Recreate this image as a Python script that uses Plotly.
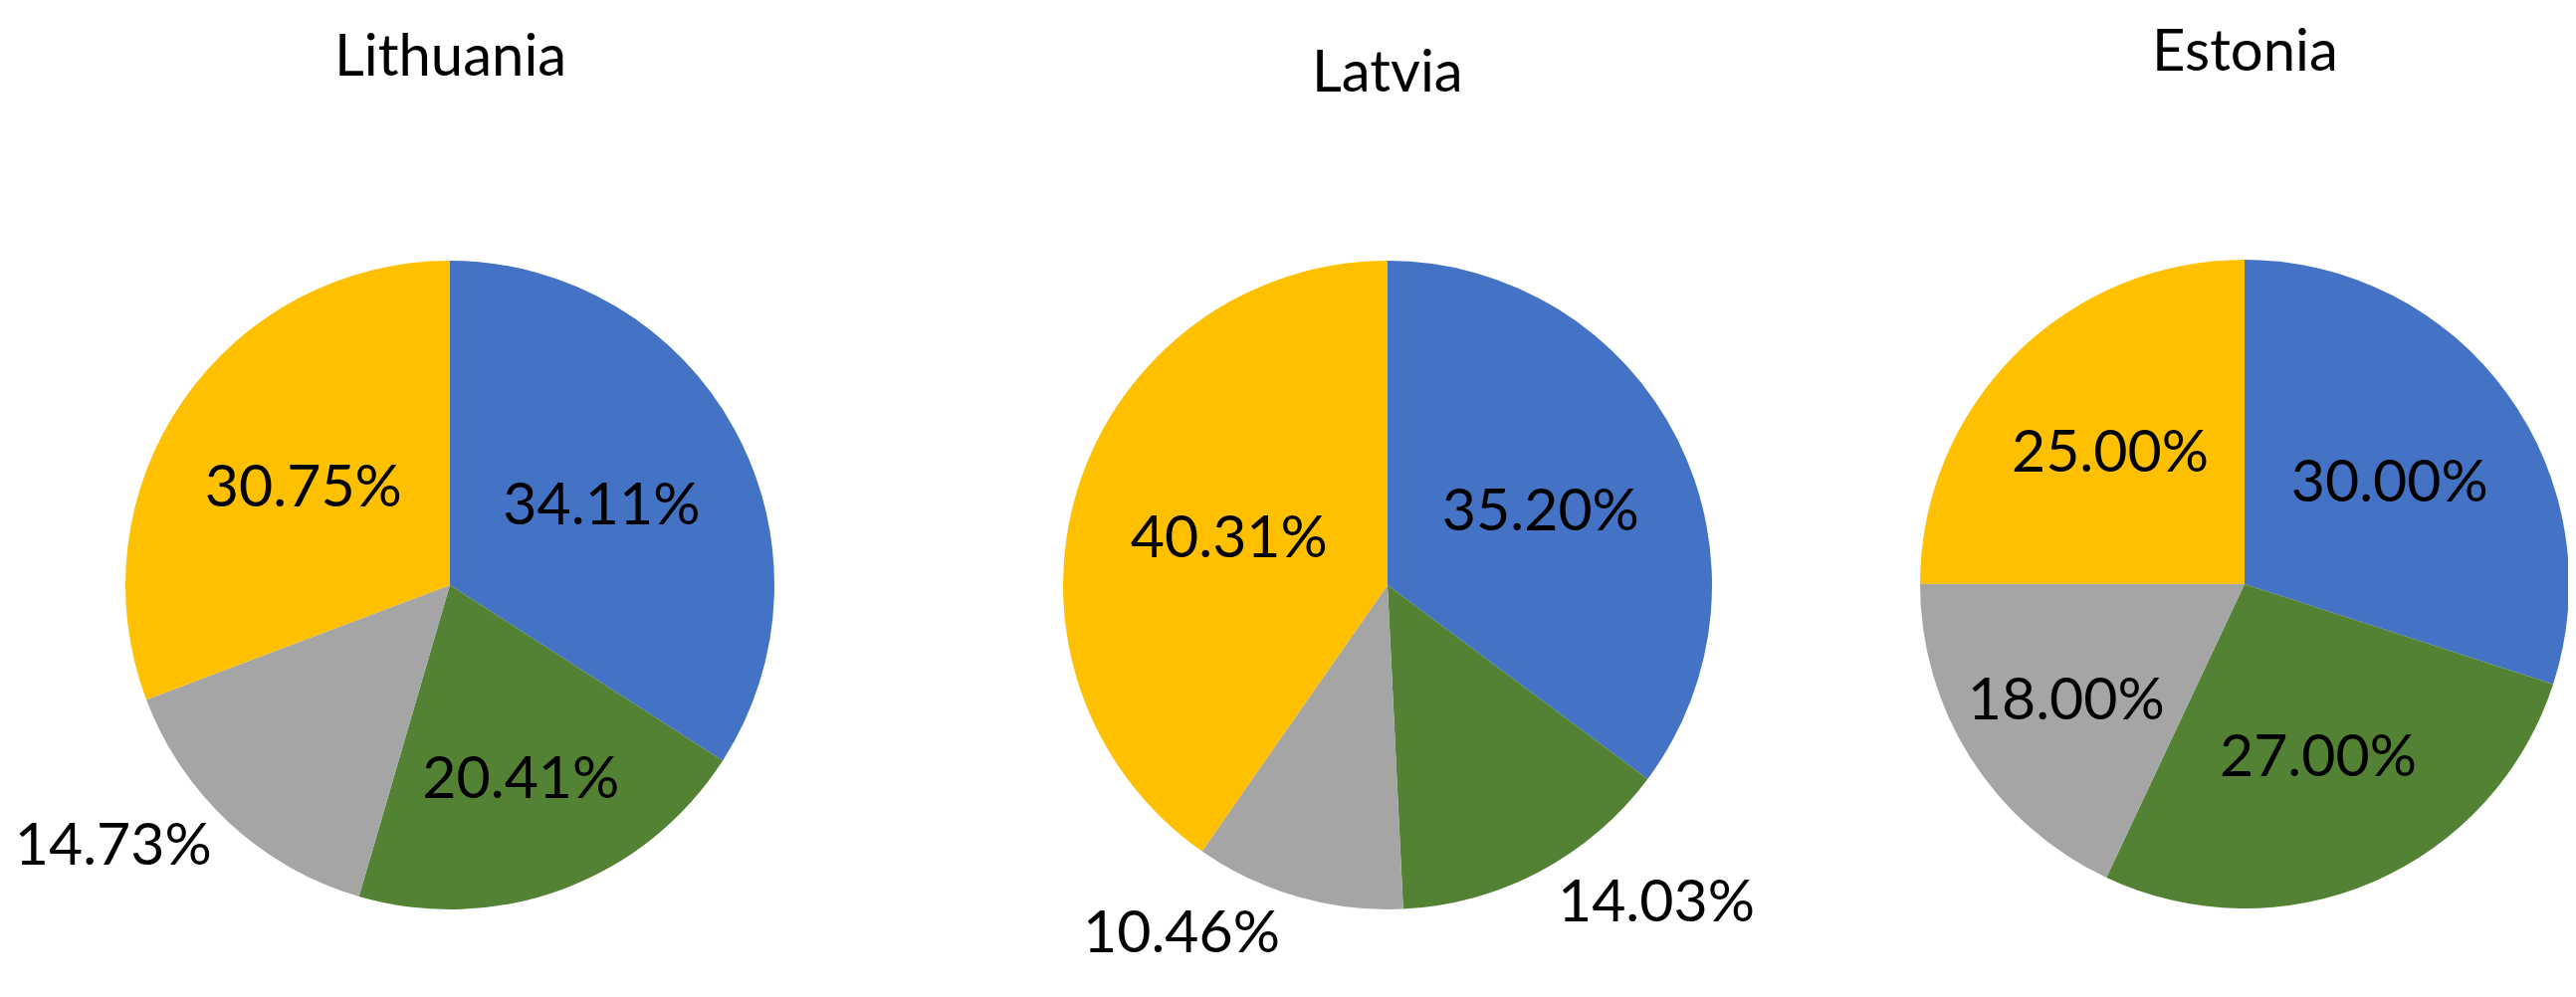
import plotly.graph_objects as go

countries = ["Lithuania", "Latvia", "Estonia"]
categories = ["A", "B", "C", "D"]
lithuania = [34.11, 20.41, 14.73, 30.75]
latvia = [35.20, 14.03, 10.46, 40.31]
estonia = [30.00, 27.00, 18.00, 25.00]
colors = ["#4472C4", "#548235", "#A5A5A5", "#FFC000"]

W, H = 2588, 1002
# pie centres / radius in pixels (from the reference)
centres = [(444, 580), (1386, 580), (2247, 579)]
R = 326
title_y = [46, 62, 41]
label_pos = [
    ["inside", "inside", "outside", "inside"],
    ["inside", "outside", "outside", "inside"],
    ["inside", "inside", "inside", "inside"],
]

fig = go.Figure()
for i, vals in enumerate([lithuania, latvia, estonia]):
    cx, cy = centres[i]
    fig.add_trace(go.Pie(
        labels=categories,
        values=vals,
        sort=False,
        direction="clockwise",
        rotation=0,
        marker=dict(colors=colors, line=dict(width=0)),
        texttemplate="%{value:.2f}%",
        textposition=label_pos[i],
        insidetextorientation="horizontal",
        textfont=dict(family="Lato", size=59, color="black"),
        domain=dict(x=[(cx - R) / W, (cx + R) / W],
                    y=[(H - cy - R) / H, (H - cy + R) / H]),
        showlegend=False,
        hoverinfo="label+value",
    ))
    fig.add_annotation(text=countries[i], x=cx / W, y=1 - title_y[i] / H,
                       xref="paper", yref="paper", showarrow=False,
                       xanchor="center", yanchor="middle",
                       font=dict(family="Lato", size=58, color="black"))

fig.update_layout(
    width=W, height=H,
    margin=dict(l=0, r=0, t=0, b=0),
    paper_bgcolor="white",
    plot_bgcolor="white",
    font=dict(family="Lato"),
)

fig.write_html("out.html")
